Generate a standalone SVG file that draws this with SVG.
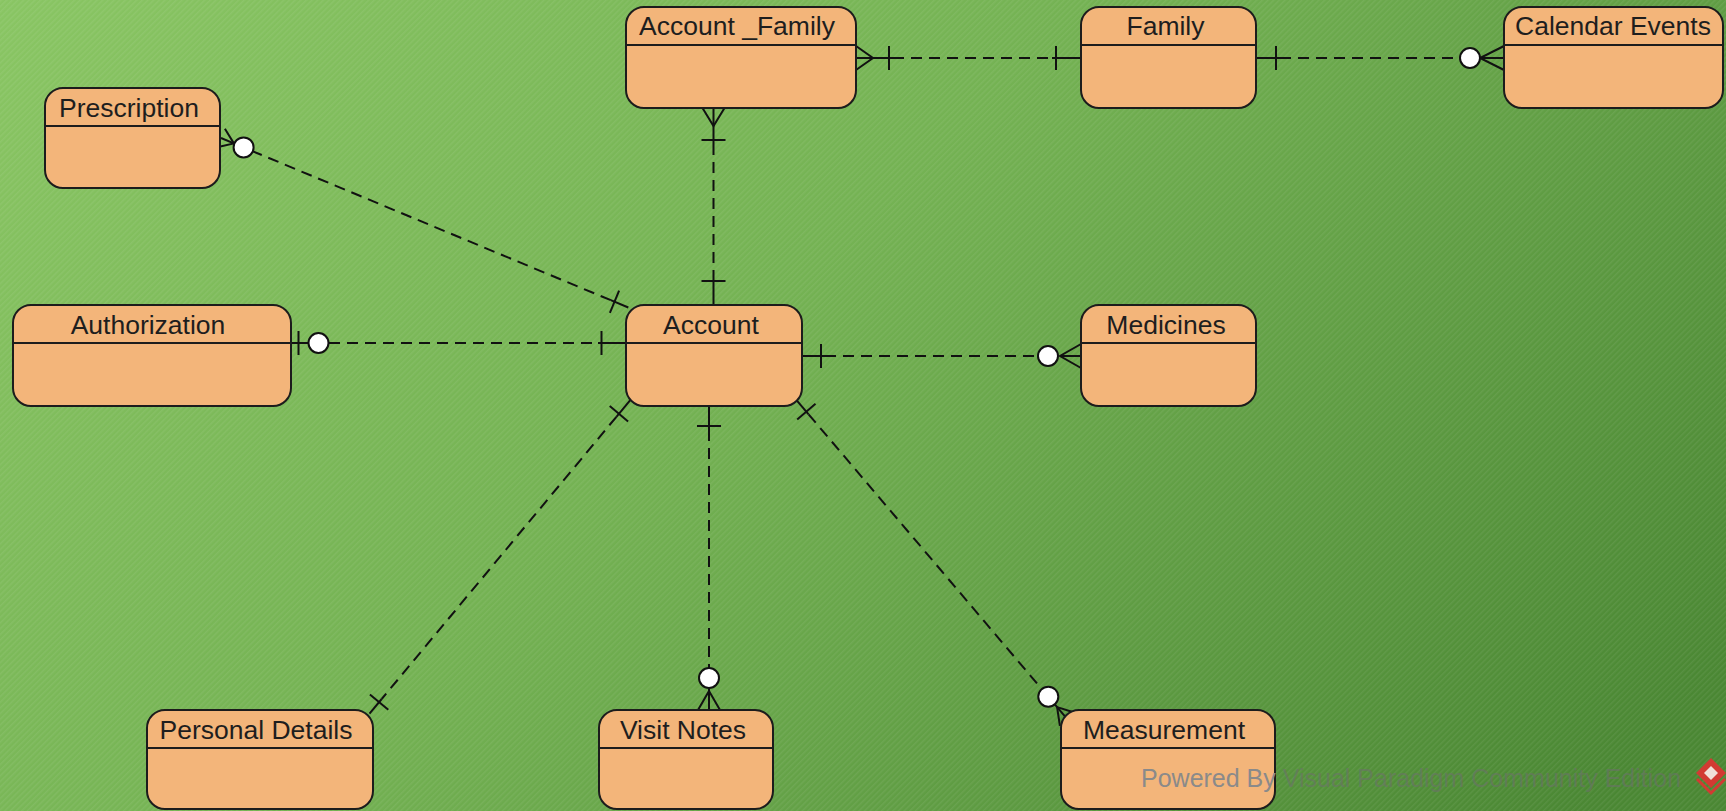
<svg xmlns="http://www.w3.org/2000/svg" width="1726" height="811" viewBox="0 0 1726 811">
  <defs>
    <linearGradient id="bg" gradientUnits="userSpaceOnUse" x1="0" y1="0" x2="1200" y2="1200">
      <stop offset="0" stop-color="#89c563"/>
      <stop offset="0.45" stop-color="#74b253"/>
      <stop offset="1" stop-color="#4a8733"/>
    </linearGradient>
    <pattern id="stripes" width="4" height="4" patternUnits="userSpaceOnUse" patternTransform="rotate(45)">
      <rect x="0" y="0" width="1.5" height="4" fill="#ffffff" fill-opacity="0.07"/>
    </pattern>
    <style>
      .box { fill: #f3b57a; stroke: #1c1c1c; stroke-width: 2; }
      .hdr { stroke: #1c1c1c; stroke-width: 2; fill: none; }
      .lbl { font-family: "Liberation Sans", Arial, sans-serif; font-size: 26.5px; fill: #1e1e1e; text-anchor: middle; }
      .dash { stroke: #111; stroke-width: 2; stroke-dasharray: 11 7; fill: none; }
      .solid { stroke: #111; stroke-width: 2; fill: none; }
      .circ { fill: #ffffff; stroke: #111; stroke-width: 2; }
      .wm { font-family: "Liberation Sans", Arial, sans-serif; font-size: 25px; }
    </style>
  </defs>

  <rect x="0" y="0" width="1726" height="811" fill="url(#bg)"/>
  <rect x="0" y="0" width="1726" height="811" fill="url(#stripes)"/>

  <g id="connectors">
    <g id="c-af-family">
      <line class="solid" x1="856" y1="58" x2="893" y2="58"/>
      <polyline class="solid" points="856,46 873,58 856,70"/>
      <line class="solid" x1="889" y1="46" x2="889" y2="70"/>
      <line class="dash" x1="893" y1="58" x2="1052" y2="58"/>
      <line class="solid" x1="1052" y1="58" x2="1081" y2="58"/>
      <line class="solid" x1="1056" y1="46" x2="1056" y2="70"/>
    </g>
    <g id="c-family-cal">
      <line class="solid" x1="1256" y1="58" x2="1280" y2="58"/>
      <line class="solid" x1="1276" y1="46" x2="1276" y2="70"/>
      <line class="dash" x1="1280" y1="58" x2="1460" y2="58"/>
      <line class="solid" x1="1480" y1="58" x2="1504" y2="58"/>
      <polyline class="solid" points="1504,46 1480,58 1504,70"/>
      <circle class="circ" cx="1470" cy="58" r="10"/>
    </g>
    <g id="c-af-account">
      <line class="solid" x1="713.5" y1="108" x2="713.5" y2="144"/>
      <polyline class="solid" points="702.5,108 713.5,126 724.5,108"/>
      <line class="solid" x1="701.5" y1="140" x2="725.5" y2="140"/>
      <line class="dash" x1="713.5" y1="144" x2="713.5" y2="277"/>
      <line class="solid" x1="713.5" y1="277" x2="713.5" y2="305"/>
      <line class="solid" x1="701.5" y1="281" x2="725.5" y2="281"/>
    </g>
    <g id="c-presc-account">
      <line class="solid" x1="628.3" y1="307.5" x2="610.8" y2="300.2"/>
      <line class="solid" x1="619.1" y1="290.6" x2="609.9" y2="312.8"/>
      <line class="dash" x1="610.8" y1="300.2" x2="252.8" y2="151.3"/>
      <line class="solid" x1="234.4" y1="143.6" x2="221" y2="138"/>
      <polyline class="solid" points="224.9,128.8 233.9,143.4 217.1,147.2"/>
      <circle class="circ" cx="243.6" cy="147.4" r="10"/>
    </g>
    <g id="c-auth-account">
      <line class="solid" x1="291" y1="343" x2="309" y2="343"/>
      <line class="solid" x1="298.5" y1="331" x2="298.5" y2="355"/>
      <circle class="circ" cx="318.5" cy="343" r="10"/>
      <line class="dash" x1="329" y1="343" x2="598" y2="343"/>
      <line class="solid" x1="598" y1="343" x2="626" y2="343"/>
      <line class="solid" x1="601.5" y1="331" x2="601.5" y2="355"/>
    </g>
    <g id="c-account-med">
      <line class="solid" x1="802" y1="356" x2="825" y2="356"/>
      <line class="solid" x1="821" y1="344" x2="821" y2="368"/>
      <line class="dash" x1="825" y1="356" x2="1038" y2="356"/>
      <line class="solid" x1="1060" y1="356" x2="1081" y2="356"/>
      <polyline class="solid" points="1081,344 1060,356 1081,368"/>
      <circle class="circ" cx="1048" cy="356" r="10"/>
    </g>
    <g id="c-account-pd">
      <line class="solid" x1="631.7" y1="398.3" x2="616.4" y2="416.8"/>
      <line class="solid" x1="628.1" y1="421.4" x2="609.7" y2="406.0"/>
      <line class="dash" x1="616.4" y1="416.8" x2="381.7" y2="699.0"/>
      <line class="solid" x1="381.7" y1="699.0" x2="369.5" y2="713.6"/>
      <line class="solid" x1="388.3" y1="709.8" x2="369.9" y2="694.4"/>
    </g>
    <g id="c-account-visit">
      <line class="solid" x1="709" y1="406" x2="709" y2="430"/>
      <line class="solid" x1="697" y1="426" x2="721" y2="426"/>
      <line class="dash" x1="709" y1="430" x2="709" y2="668"/>
      <line class="solid" x1="709" y1="688" x2="709" y2="710"/>
      <polyline class="solid" points="698,710 709,691 720,710"/>
      <circle class="circ" cx="709" cy="678" r="10"/>
    </g>
    <g id="c-account-meas">
      <line class="solid" x1="795" y1="398.3" x2="808.6" y2="414.3"/>
      <line class="solid" x1="815.5" y1="403.8" x2="797.2" y2="419.4"/>
      <line class="dash" x1="808.6" y1="414.3" x2="1041.8" y2="689.1"/>
      <line class="solid" x1="1054.8" y1="704.3" x2="1067.5" y2="719.3"/>
      <polyline class="solid" points="1075.1,712.8 1057.1,707.1 1059.9,725.8"/>
      <circle class="circ" cx="1048.3" cy="696.7" r="10"/>
    </g>
  </g>

  <g id="node-account-family">
    <rect class="box" x="626" y="7" width="230" height="101" rx="18" ry="18"/>
    <line class="hdr" x1="626" y1="45" x2="856" y2="45"/>
    <text class="lbl" x="737" y="35">Account _Family</text>
  </g>
  <g id="node-family">
    <rect class="box" x="1081" y="7" width="175" height="101" rx="18" ry="18"/>
    <line class="hdr" x1="1081" y1="45" x2="1256" y2="45"/>
    <text class="lbl" x="1165.5" y="35">Family</text>
  </g>
  <g id="node-calendar-events">
    <rect class="box" x="1504" y="7" width="219" height="101" rx="18" ry="18"/>
    <line class="hdr" x1="1504" y1="45" x2="1723" y2="45"/>
    <text class="lbl" x="1613" y="35">Calendar Events</text>
  </g>
  <g id="node-prescription">
    <rect class="box" x="45" y="88" width="175" height="100" rx="18" ry="18"/>
    <line class="hdr" x1="45" y1="126" x2="220" y2="126"/>
    <text class="lbl" x="129" y="117">Prescription</text>
  </g>
  <g id="node-authorization">
    <rect class="box" x="13" y="305" width="278" height="101" rx="18" ry="18"/>
    <line class="hdr" x1="13" y1="343" x2="291" y2="343"/>
    <text class="lbl" x="148" y="334">Authorization</text>
  </g>
  <g id="node-account">
    <rect class="box" x="626" y="305" width="176" height="101" rx="18" ry="18"/>
    <line class="hdr" x1="626" y1="343" x2="802" y2="343"/>
    <text class="lbl" x="711" y="334">Account</text>
  </g>
  <g id="node-medicines">
    <rect class="box" x="1081" y="305" width="175" height="101" rx="18" ry="18"/>
    <line class="hdr" x1="1081" y1="343" x2="1256" y2="343"/>
    <text class="lbl" x="1166" y="334">Medicines</text>
  </g>
  <g id="node-personal-details">
    <rect class="box" x="147" y="710" width="226" height="99" rx="18" ry="18"/>
    <line class="hdr" x1="147" y1="748" x2="373" y2="748"/>
    <text class="lbl" x="256" y="739">Personal Details</text>
  </g>
  <g id="node-visit-notes">
    <rect class="box" x="599" y="710" width="174" height="99" rx="18" ry="18"/>
    <line class="hdr" x1="599" y1="748" x2="773" y2="748"/>
    <text class="lbl" x="683" y="739">Visit Notes</text>
  </g>
  <g id="node-measurement">
    <rect class="box" x="1061" y="710" width="214" height="99" rx="18" ry="18"/>
    <line class="hdr" x1="1061" y1="748" x2="1275" y2="748"/>
    <text class="lbl" x="1164" y="739">Measurement</text>
  </g>

  <g id="watermark">
    <text class="wm" x="1141" y="787"><tspan fill="#8a8a8a">Powered By </tspan><tspan fill="#6e6e6e" fill-opacity="0.55">Visual Paradigm Community Edition</tspan></text>
    <polygon points="1711,758 1726,773 1711,788 1696,773" fill="#d23a32"/>
    <polygon points="1711,766 1718,773 1711,780 1704,773" fill="#f0e0d8"/>
    <polyline points="1697,779 1711,793 1725,779" fill="none" stroke="#d23a32" stroke-width="3"/>
  </g>
</svg>
